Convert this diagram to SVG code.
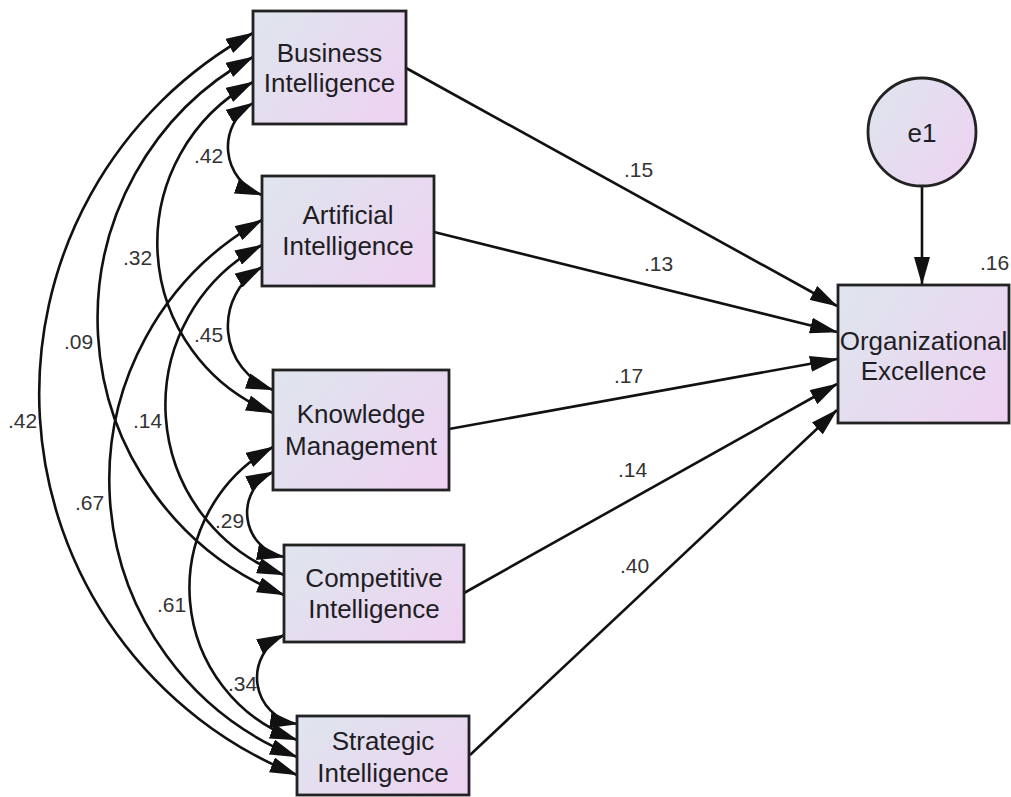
<svg xmlns="http://www.w3.org/2000/svg" width="1011" height="797" viewBox="0 0 1011 797">
<style>
.box{stroke:#222;stroke-width:2.8;fill:url(#g)}
.nt{font-family:"Liberation Sans",Arial,sans-serif;font-size:26px;fill:#1e1e24;text-anchor:middle}
.lb{font-family:"Liberation Sans",Arial,sans-serif;font-size:21px;fill:#333}
.c{fill:none;stroke:#111;stroke-width:2.6;marker-start:url(#ah);marker-end:url(#ah)}
.p{fill:none;stroke:#111;stroke-width:2.6;marker-end:url(#ah)}
</style>
<defs>
<linearGradient id="g" x1="0" y1="0.2" x2="1" y2="0.8">
<stop offset="0" stop-color="#dfe4ee"/>
<stop offset="1" stop-color="#edd3f1"/>
</linearGradient>
<marker id="ah" viewBox="0 0 28 16" refX="27" refY="8" markerWidth="28" markerHeight="16" markerUnits="userSpaceOnUse" orient="auto-start-reverse">
<path d="M0,0 L28,8 L0,16 z" fill="#111"/>
</marker>
</defs>
<rect width="1011" height="797" fill="#fff"/>
<g id="connectors">
<path class="c" d="M253,33 A411,411 0 0 0 297,775"/>
<path class="c" d="M253,57 A298,298 0 0 0 284,595"/>
<path class="c" d="M253,82 A183,183 0 0 0 273,413"/>
<path class="c" d="M253,103 A51,51 0 0 0 262,195"/>
<path class="c" d="M262,220 A298,298 0 0 0 297,757"/>
<path class="c" d="M262,245 A181,181 0 0 0 284,575"/>
<path class="c" d="M262,267 A68,68 0 0 0 273,390"/>
<path class="c" d="M273,447 A161,161 0 0 0 297,740"/>
<path class="c" d="M273,472 A45,45 0 0 0 284,557"/>
<path class="c" d="M284,635 A47,47 0 0 0 297,724"/>
<path class="p" d="M406,68 L837,306"/>
<path class="p" d="M434,232 L837,332"/>
<path class="p" d="M449,429 L837,359"/>
<path class="p" d="M464,593 L837,384"/>
<path class="p" d="M470,755 L837,410"/>
<path class="p" d="M922,186 L922,284"/>
</g>
<g id="labels">
<text class="lb" x="194" y="163">.42</text>
<text class="lb" x="123" y="265">.32</text>
<text class="lb" x="194" y="342">.45</text>
<text class="lb" x="64" y="349">.09</text>
<text class="lb" x="8" y="428">.42</text>
<text class="lb" x="133" y="428">.14</text>
<text class="lb" x="75" y="510">.67</text>
<text class="lb" x="215" y="528">.29</text>
<text class="lb" x="157" y="612">.61</text>
<text class="lb" x="228" y="691">.34</text>
<text class="lb" x="624" y="177">.15</text>
<text class="lb" x="644" y="271">.13</text>
<text class="lb" x="614" y="383">.17</text>
<text class="lb" x="618" y="477">.14</text>
<text class="lb" x="620" y="573">.40</text>
<text class="lb" x="980" y="270">.16</text>
</g>
<g id="bi"><rect class="box" x="253" y="11" width="153" height="113"/><text class="nt" x="329.5" y="62">Business</text><text class="nt" x="329.5" y="92">Intelligence</text></g>
<g id="ai"><rect class="box" x="262" y="176" width="172" height="110"/><text class="nt" x="348" y="224">Artificial</text><text class="nt" x="348" y="255">Intelligence</text></g>
<g id="km"><rect class="box" x="273" y="370" width="176" height="120"/><text class="nt" x="361" y="423">Knowledge</text><text class="nt" x="361" y="455">Management</text></g>
<g id="ci"><rect class="box" x="284" y="545" width="180" height="97"/><text class="nt" x="374" y="587">Competitive</text><text class="nt" x="374" y="618">Intelligence</text></g>
<g id="si"><rect class="box" x="297" y="716" width="172" height="79"/><text class="nt" x="383" y="750">Strategic</text><text class="nt" x="383" y="782">Intelligence</text></g>
<g id="oe"><rect class="box" x="838" y="285" width="171" height="138"/><text class="nt" x="923.5" y="350">Organizational</text><text class="nt" x="923.5" y="380">Excellence</text></g>
<g id="e1"><circle class="box" cx="922" cy="132" r="54"/><text class="nt" x="922" y="142">e1</text></g>
</svg>
